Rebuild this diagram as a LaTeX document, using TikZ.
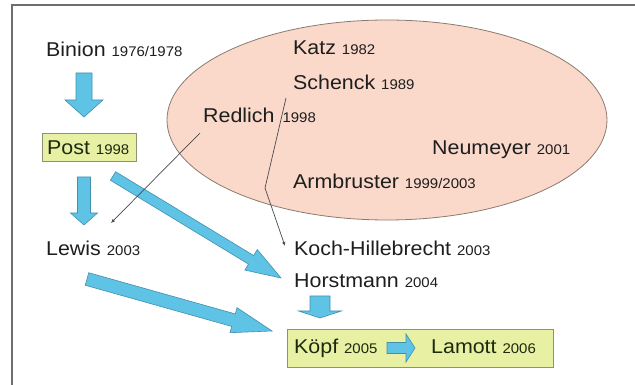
\documentclass[tikz,border=0pt]{standalone}
\usepackage{fontspec}
\setmainfont{Liberation Sans}[FakeStretch=1.07]
\usetikzlibrary{calc,shapes.geometric,arrows.meta}
\definecolor{framegray}{HTML}{6E6E6E}
\definecolor{txt}{HTML}{1E1E1E}
\definecolor{boxtxt}{HTML}{1C2A10}
\definecolor{ellfill}{HTML}{FAD9CA}
\definecolor{elldraw}{HTML}{8A7A70}
\definecolor{boxfill}{HTML}{E8F0A4}
\definecolor{boxdraw}{HTML}{8E9270}
\definecolor{arrfill}{HTML}{5EC3E4}
\definecolor{arrdraw}{HTML}{4290AE}
\definecolor{linecol}{HTML}{4A4A4A}
\newcommand{\nm}{\fontsize{20}{24}\selectfont}
\newcommand{\yr}{\fontsize{14}{16}\selectfont}
\newcommand{\blockarr}[5]{%
  \path coordinate (ba-h) at ($(#2)!#5!(#1)$);
  \draw[blockarrow] ($(#1)!#3!90:(#2)$) -- ($(ba-h)!#3!90:(#2)$) -- ($(ba-h)!#4!90:(#2)$) -- (#2)
    -- ($(ba-h)!#4!-90:(#2)$) -- ($(ba-h)!#3!-90:(#2)$) -- ($(#1)!#3!-90:(#2)$) -- cycle;
}
\tikzset{
  lbl/.style={inner sep=0pt, anchor=base west, text=txt},
  blbl/.style={inner sep=0pt, anchor=base west, text=boxtxt},
  yellowbox/.style={draw=boxdraw, fill=boxfill, line width=0.8pt},
  blockarrow/.style={draw=arrdraw, fill=arrfill, line width=0.6pt, line join=miter},
  thinline/.style={draw=linecol, line width=0.7pt, -{Latex[length=4pt,width=3.5pt]}},
}
\begin{document}
\begin{tikzpicture}[x=1pt,y=1pt]
\useasboundingbox (0,0) rectangle (635,385);
% frame
\draw[framegray, line width=1.6pt] (12,0) -- (12,380) -- (636,380);
% ellipse
\node[ellipse, draw=elldraw, fill=ellfill, line width=0.8pt, minimum width=440pt, minimum height=200pt, inner sep=0pt] (ell) at (387,265) {};
% boxes
\node[yellowbox, minimum width=94pt, minimum height=28pt, inner sep=0pt] (postbox) at (89,238) {};
\node[yellowbox, minimum width=266pt, minimum height=38pt, inner sep=0pt] (kbox) at (420,37) {};
% labels
\node[lbl] (binion) at (46,328) {\nm Binion \yr 1976/1978};
\node[lbl] (katz) at (293,330) {\nm Katz \yr 1982};
\node[lbl] (schenck) at (293,295) {\nm Schenck \yr 1989};
\node[lbl] (redlich) at (203,262) {\nm Redlich\hspace{8pt}\yr 1998};
\node[lbl] (neumeyer) at (432,230) {\nm Neumeyer \yr 2001};
\node[lbl] (armbruster) at (293,196) {\nm Armbruster \yr 1999/2003};
\node[blbl] (post) at (47,230) {\nm Post \yr 1998};
\node[lbl] (lewis) at (46,129) {\nm Lewis \yr 2003};
\node[lbl] (koch) at (294,129) {\nm Koch-Hillebrecht \yr 2003};
\node[lbl] (horst) at (294,97) {\nm Horstmann \yr 2004};
\node[blbl] (koepf) at (294,31) {\nm Köpf \yr 2005};
\node[blbl] (lamott) at (431,31) {\nm Lamott \yr 2006};
% block arrow end points
\coordinate (a1s) at (84,312); \coordinate (a1e) at (84,268);
\coordinate (a2s) at (84,208); \coordinate (a2e) at (84,160);
\coordinate (a3s) at (113,209); \coordinate (a3e) at (281,107);
\coordinate (a4s) at (87,106); \coordinate (a4e) at (272,54);
\coordinate (a5s) at (320,89); \coordinate (a5e) at (320,67);
\coordinate (a6s) at (387,37); \coordinate (a6e) at (415,37);
\blockarr{a1s}{a1e}{8pt}{19pt}{17pt}
\blockarr{a2s}{a2e}{6.5pt}{13.5pt}{12pt}
\blockarr{a3s}{a3e}{5pt}{12pt}{35pt}
\blockarr{a4s}{a4e}{6.5pt}{13pt}{40pt}
\blockarr{a5s}{a5e}{10pt}{21.5pt}{7pt}
\blockarr{a6s}{a6e}{5.5pt}{14pt}{9pt}
% thin connectors
\coordinate (l1s) at (200,252); \coordinate (l1e) at (111,162);
\coordinate (l2s) at (286,287); \coordinate (l2k) at (265,197); \coordinate (l2e) at (285,139);
\draw[thinline] (l1s) -- (l1e);
\draw[thinline] (l2s) -- (l2k) -- (l2e);
\end{tikzpicture}
\end{document}
